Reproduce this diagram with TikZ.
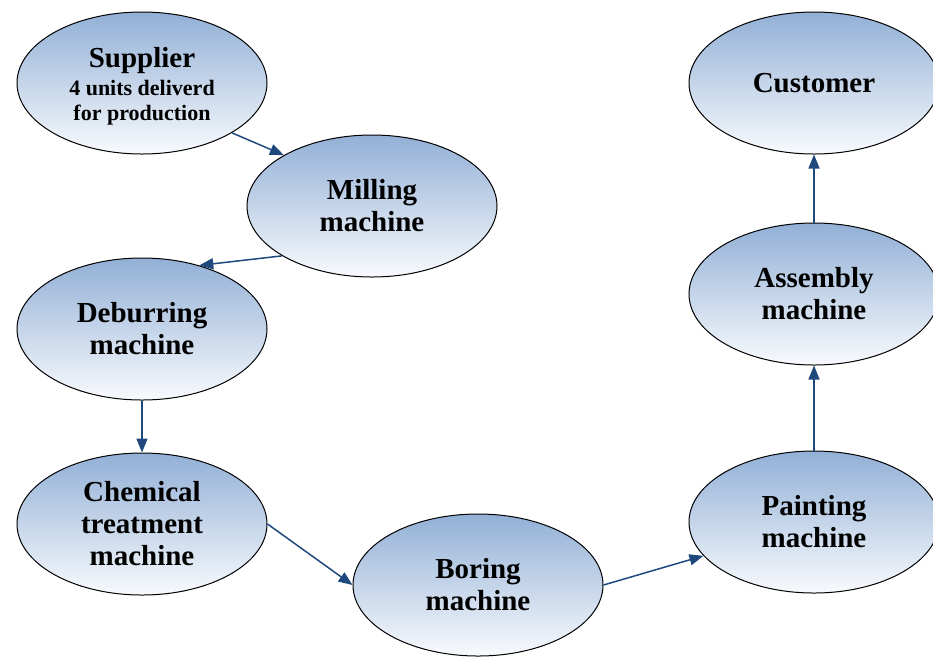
\documentclass[tikz,border=0pt]{standalone}
\usepackage{fontspec}
\setmainfont{Liberation Serif}
\usetikzlibrary{shapes.geometric,arrows.meta}
\definecolor{arrowblue}{RGB}{31,73,125}
\definecolor{topblue}{RGB}{146,176,214}
\definecolor{botwhite}{RGB}{248,250,253}
\tikzset{
  stage/.style={ellipse, draw=black, line width=1pt, inner sep=0pt,
    minimum width=250pt, minimum height=142pt,
    top color=topblue, bottom color=botwhite, align=center,
    font=\bfseries\fontsize{29}{32}\selectfont},
  flow/.style={draw=arrowblue, line width=1.5pt,
    -{Triangle[length=14pt,width=11pt]}}
}
\begin{document}
\begin{tikzpicture}[x=1pt,y=-1pt]
\useasboundingbox (0,0) rectangle (933,657);
\node[stage] (sup) at (142,83) {\rule{0pt}{26pt}Supplier\\[-4pt]{\fontsize{22}{25}\selectfont 4 units deliverd}\\[-7pt]{\fontsize{22}{25}\selectfont for production}};
\node[stage] (mil) at (372,206) {Milling\\machine};
\node[stage] (deb) at (142,329) {Deburring\\machine};
\node[stage] (che) at (142,524) {Chemical\\treatment\\machine};
\node[stage] (bor) at (478,585) {Boring\\machine};
\node[stage] (pai) at (814,522) {Painting\\machine};
\node[stage] (ass) at (814,294) {Assembly\\machine};
\node[stage] (cus) at (814,83) {Customer};
\draw[flow] (sup.-29) -- (mil.150);
\draw[flow] (mil.209) -- (deb.48);
\draw[flow] (deb.south) -- (che.north);
\draw[flow] (che.east) -- (bor.west);
\draw[flow] (bor.east) -- (pai.197);
\draw[flow] (pai.north) -- (ass.south);
\draw[flow] (ass.north) -- (cus.south);
\end{tikzpicture}
\end{document}
